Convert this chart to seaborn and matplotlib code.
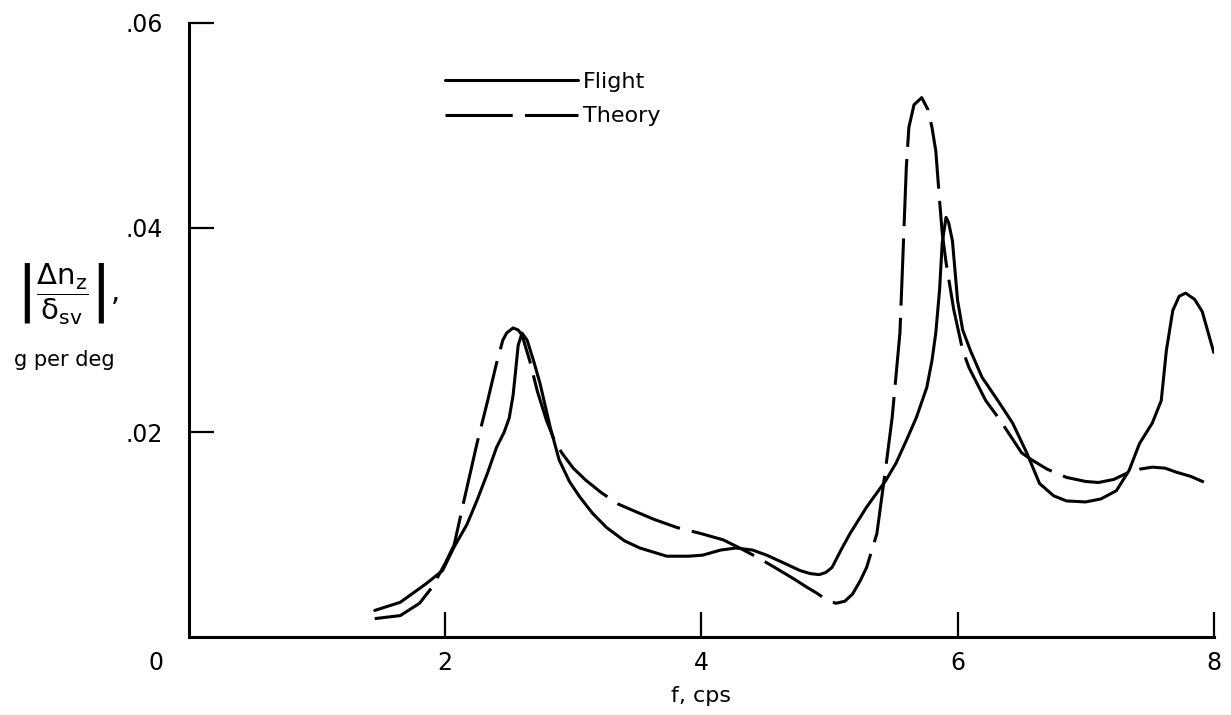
import numpy as np
import pandas as pd
import seaborn as sns
import matplotlib.pyplot as plt

# frequency response (f in cps, |dn_z/d_sv| in g per deg)
flight_f = [1.45, 1.65, 1.85, 1.98, 2.07, 2.17, 2.25, 2.33, 2.40, 2.46, 2.50, 2.53,
            2.55, 2.57, 2.60, 2.64, 2.69, 2.74, 2.82, 2.89, 2.97, 3.05, 3.15, 3.26,
            3.40, 3.52, 3.73, 3.90, 4.01, 4.15, 4.27, 4.40, 4.51, 4.65, 4.77, 4.85,
            4.92, 4.97, 5.02, 5.09, 5.16, 5.29, 5.44, 5.52, 5.60, 5.68, 5.76, 5.80,
            5.83, 5.86, 5.88, 5.91, 5.93, 5.96, 6.00, 6.04, 6.10, 6.19, 6.32, 6.43,
            6.54, 6.64, 6.75, 6.85, 7.00, 7.12, 7.24, 7.34, 7.42, 7.52, 7.59, 7.63,
            7.68, 7.73, 7.78, 7.85, 7.91, 8.00]
flight_amp = [0.0026, 0.0034, 0.0052, 0.0065, 0.0088, 0.0110, 0.0134, 0.0160, 0.0185,
              0.0200, 0.0214, 0.0236, 0.0260, 0.0285, 0.0297, 0.0290, 0.0270, 0.0248,
              0.0205, 0.0173, 0.0152, 0.0137, 0.0121, 0.0107, 0.0094, 0.0087, 0.0079,
              0.0079, 0.0080, 0.0085, 0.0087, 0.0085, 0.0080, 0.0072, 0.0065, 0.0062,
              0.0061, 0.0063, 0.0068, 0.0085, 0.0101, 0.0127, 0.0153, 0.0170, 0.0192,
              0.0215, 0.0244, 0.0270, 0.0297, 0.0340, 0.0385, 0.0410, 0.0405, 0.0387,
              0.0329, 0.0300, 0.0280, 0.0254, 0.0230, 0.0209, 0.0180, 0.0150, 0.0138,
              0.0133, 0.0132, 0.0135, 0.0143, 0.0163, 0.0189, 0.0209, 0.0231, 0.0280,
              0.0319, 0.0333, 0.0336, 0.0330, 0.0318, 0.0278]

theory_f = [1.45, 1.65, 1.80, 1.90, 2.00, 2.07, 2.15, 2.25, 2.33, 2.40, 2.45, 2.48,
            2.53, 2.57, 2.60, 2.66, 2.72, 2.79, 2.85, 2.91, 3.00, 3.10, 3.22, 3.35,
            3.46, 3.63, 3.81, 4.00, 4.17, 4.30, 4.45, 4.60, 4.72, 4.82, 4.90, 4.97,
            5.05, 5.12, 5.18, 5.24, 5.29, 5.37, 5.44, 5.49, 5.55, 5.57, 5.60, 5.62,
            5.66, 5.72, 5.77, 5.80, 5.83, 5.86, 5.88, 5.91, 5.97, 6.04, 6.09, 6.22,
            6.32, 6.40, 6.50, 6.58, 6.70, 6.85, 7.00, 7.10, 7.22, 7.32, 7.42, 7.52,
            7.62, 7.71, 7.82, 7.93]
theory_amp = [0.0018, 0.0021, 0.0033, 0.0049, 0.0072, 0.0090, 0.0135, 0.0190, 0.0230,
              0.0267, 0.0290, 0.0297, 0.0302, 0.0300, 0.0295, 0.0270, 0.0240, 0.0212,
              0.0193, 0.0180, 0.0165, 0.0153, 0.0141, 0.0130, 0.0124, 0.0115, 0.0107,
              0.0101, 0.0095, 0.0087, 0.0077, 0.0066, 0.0057, 0.0049, 0.0043, 0.0037,
              0.0033, 0.0035, 0.0042, 0.0055, 0.0068, 0.0101, 0.0166, 0.0215, 0.0297,
              0.0361, 0.0459, 0.0498, 0.0520, 0.0527, 0.0515, 0.0498, 0.0475, 0.0426,
              0.0395, 0.0366, 0.0320, 0.0280, 0.0263, 0.0231, 0.0214, 0.0199, 0.0180,
              0.0173, 0.0164, 0.0156, 0.0152, 0.0151, 0.0154, 0.0160, 0.0164, 0.0166,
              0.0165, 0.0161, 0.0157, 0.0151]

x_ticks = [2, 4, 6, 8]
y_ticks = [0.02, 0.04, 0.06]
y_tick_labels = [".02", ".04", ".06"]


def main():
    sns.set_style("ticks")
    plt.rcParams["font.family"] = ["DejaVu Sans"]
    plt.rcParams["mathtext.default"] = "regular"
    plt.rcParams["text.color"] = "black"
    plt.rcParams["axes.labelcolor"] = "black"

    df = pd.concat([
        pd.DataFrame({"f": flight_f, "amp": flight_amp, "series": "Flight"}),
        pd.DataFrame({"f": theory_f, "amp": theory_amp, "series": "Theory"}),
    ], ignore_index=True)

    fig = plt.figure(figsize=(12.31, 7.15), dpi=100)
    ax = fig.add_axes([0.1535, 0.109, 0.8325, 0.859])

    sns.lineplot(data=df, x="f", y="amp", style="series", color="black",
                 dashes={"Flight": "", "Theory": (22, 4)},
                 estimator=None, linewidth=2.2, ax=ax)

    ax.set_xlim(0, 8)
    ax.set_ylim(0, 0.06)
    ax.set_xticks(x_ticks)
    ax.set_xticklabels([str(t) for t in x_ticks])
    ax.set_yticks(y_ticks)
    ax.set_yticklabels(y_tick_labels)
    ax.tick_params(direction="in", length=18, width=1.6, labelsize=17,
                   colors="black")
    ax.tick_params(axis="x", pad=10)
    ax.tick_params(axis="y", pad=19)
    sns.despine(ax=ax)
    for s in ["left", "bottom"]:
        ax.spines[s].set_linewidth(2.2)
        ax.spines[s].set_color("black")

    ax.annotate("0", xy=(0, 0), xytext=(-24, -19), textcoords="offset points",
                ha="center", va="center", fontsize=17, color="black")

    ax.set_xlabel("f, cps", fontsize=16, labelpad=8, color="black")
    ax.set_ylabel("")

    fig.text(0.055, 0.59, r"$\left|\dfrac{\Delta n_z}{\delta_{sv}}\right|$,",
             ha="center", va="center", fontsize=21, color="black")
    fig.text(0.052, 0.497, "g per deg", ha="center", va="center", fontsize=15,
             color="black")

    sns.move_legend(ax, "upper left", bbox_to_anchor=(0.25, 0.92), title=None,
                    frameon=False, fontsize=16, handlelength=6.0,
                    handletextpad=0.2, labelspacing=0.65, borderpad=0,
                    borderaxespad=0, labelcolor="black")

    fig.savefig("out.png", dpi=100)


if __name__ == "__main__":
    main()
